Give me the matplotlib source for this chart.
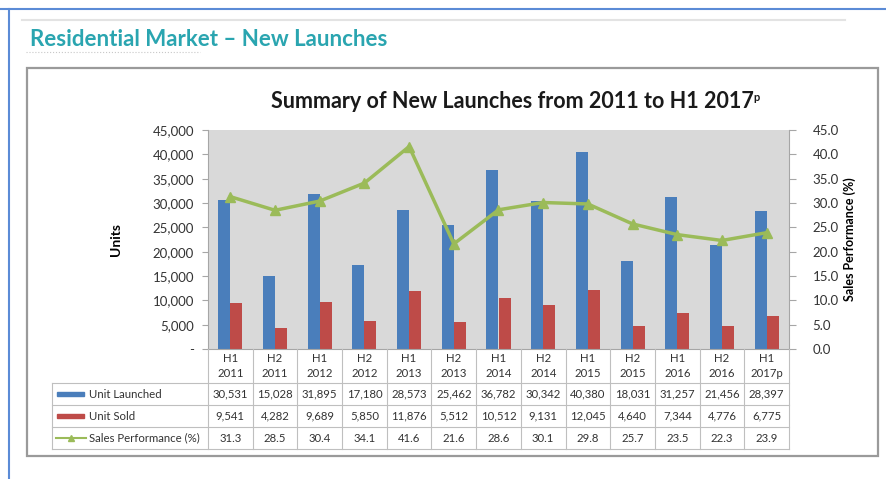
import matplotlib.pyplot as plt
from matplotlib.patches import Rectangle
from matplotlib.lines import Line2D
from matplotlib.ticker import FuncFormatter

plt.rcParams['font.family'] = ['Lato', 'DejaVu Sans']

periods = ['H1\n2011', 'H2\n2011', 'H1\n2012', 'H2\n2012', 'H1\n2013', 'H2\n2013', 'H1\n2014',
           'H2\n2014', 'H1\n2015', 'H2\n2015', 'H1\n2016', 'H2\n2016', 'H1\n2017p']
launched = [30531, 15028, 31895, 17180, 28573, 25462, 36782, 30342, 40380, 18031, 31257, 21456, 28397]
sold = [9541, 4282, 9689, 5850, 11876, 5512, 10512, 9131, 12045, 4640, 7344, 4776, 6775]
perf = [31.3, 28.5, 30.4, 34.1, 41.6, 21.6, 28.6, 30.1, 29.8, 25.7, 23.5, 22.3, 23.9]

BLUE = '#4a7ebb'
RED = '#be4b48'
GREEN = '#9bbb59'
GRID = '#bfbfbf'
TXT = '#333333'
W, H = 886, 479

fig = plt.figure(figsize=(W / 100, H / 100), dpi=100)


def fx(px):
    return px / W


def fy(py):
    return 1 - py / H


# page frame
fig.add_artist(Line2D([fx(0), fx(W)], [fy(9), fy(9)], color='#5b8bd6', lw=1.5))
fig.add_artist(Line2D([fx(9), fx(9)], [fy(9), fy(H)], color='#5b8bd6', lw=1.5))
fig.add_artist(Line2D([fx(22), fx(845)], [fy(20), fy(20)], color='#e3e3e3', lw=1.5))
fig.text(fx(30), fy(40), 'Residential Market \u2013 New Launches', color='#2aa5b0',
         fontsize=16, fontweight='bold', va='center', ha='left')
fig.add_artist(Line2D([fx(26), fx(200)], [fy(52), fy(52)], color='#c8c8c8', lw=0.8, ls=':'))
fig.add_artist(Rectangle((fx(27), fy(456)), fx(878) - fx(27), fy(68) - fy(456),
                         fill=False, ec='#9a9a9a', lw=1.6))

title = fig.text(fx(512), fy(101), 'Summary of New Launches from 2011 to H1 2017',
                 fontsize=15.5, fontweight='bold', ha='center', va='center', color='#1a1a1a')
fig.add_artist(plt.Annotation('p', xy=(1, 0.92), xycoords=title, ha='left', va='top',
                              fontsize=8, fontweight='bold', color='#1a1a1a'))

# plot area
left, right, top, bottom = 208, 789, 130, 349
ax = fig.add_axes([fx(left), fy(bottom), fx(right) - fx(left), fy(top) - fy(bottom)])
ax.set_facecolor('#d9d9d9')
x = list(range(len(periods)))
bw = 0.27
ax.bar([i - bw / 2 for i in x], launched, width=bw, color=BLUE, zorder=2)
ax.bar([i + bw / 2 for i in x], sold, width=bw, color=RED, zorder=2)
ax.set_xlim(-0.5, len(periods) - 0.5)
ax.set_ylim(0, 45000)
ax.set_yticks(range(0, 45001, 5000))
ax.yaxis.set_major_formatter(FuncFormatter(lambda v, p: '-' if v == 0 else f'{int(v):,}'))
ax.set_xticks([])
for s in ['top', 'right']:
    ax.spines[s].set_visible(False)
for s in ['left', 'bottom']:
    ax.spines[s].set_color('#a6a6a6')
ax.tick_params(axis='y', colors='#a6a6a6', labelcolor=TXT, labelsize=9.5, length=4, pad=6)
ax.set_ylabel('Units', fontsize=10, fontweight='bold', labelpad=22)

ax2 = ax.twinx()
ax2.plot(x, perf, color=GREEN, lw=2.5, marker='^', ms=7, zorder=3)
ax2.set_ylim(0, 45)
ax2.set_yticks(range(0, 46, 5))
ax2.yaxis.set_major_formatter(FuncFormatter(lambda v, p: f'{v:.1f}'))
for s in ['top', 'left', 'bottom']:
    ax2.spines[s].set_visible(False)
ax2.spines['right'].set_color('#a6a6a6')
ax2.tick_params(axis='y', colors='#a6a6a6', labelcolor=TXT, labelsize=9.5, length=5, pad=12)
ax2.set_ylabel('Sales Performance (%)', fontsize=9, fontweight='bold', labelpad=3)

# data table below the plot
tab_left = 52
rows_y = [349, 383, 405, 427, 449]
colw = (right - left) / len(periods)
lc = dict(color=GRID, lw=0.8)
for i in range(len(periods) + 1):
    xp = left + i * colw
    fig.add_artist(Line2D([fx(xp), fx(xp)], [fy(rows_y[0]), fy(rows_y[-1])], **lc))
fig.add_artist(Line2D([fx(tab_left), fx(tab_left)], [fy(rows_y[1]), fy(rows_y[-1])], **lc))
for yp in rows_y[1:]:
    fig.add_artist(Line2D([fx(tab_left), fx(right)], [fy(yp), fy(yp)], **lc))

tsize = 8.2
for i, lab in enumerate(periods):
    cx = fx(left + (i + 0.5) * colw)
    fig.text(cx, fy(366), lab, fontsize=tsize, ha='center', va='center',
             color=TXT, linespacing=1.4)
    fig.text(cx, fy(394), f'{launched[i]:,}', fontsize=tsize, ha='center', va='center', color=TXT)
    fig.text(cx, fy(416), f'{sold[i]:,}', fontsize=tsize, ha='center', va='center', color=TXT)
    fig.text(cx, fy(438), f'{perf[i]:.1f}', fontsize=tsize, ha='center', va='center', color=TXT)

fig.add_artist(Rectangle((fx(57), fy(396)), fx(27), fy(392) - fy(396), color=BLUE))
fig.add_artist(Rectangle((fx(57), fy(418)), fx(27), fy(414) - fy(418), color=RED))
fig.add_artist(Line2D([fx(56), fx(71), fx(86)], [fy(438)] * 3, color=GREEN, lw=1.5,
                      marker='^', ms=4, markevery=[1]))
fig.text(fx(89), fy(394), 'Unit Launched', fontsize=tsize, va='center', color=TXT)
fig.text(fx(89), fy(416), 'Unit Sold', fontsize=tsize, va='center', color=TXT)
fig.text(fx(89), fy(438), 'Sales Performance (%)', fontsize=tsize, va='center', color=TXT)

plt.savefig('out.png', dpi=100)
